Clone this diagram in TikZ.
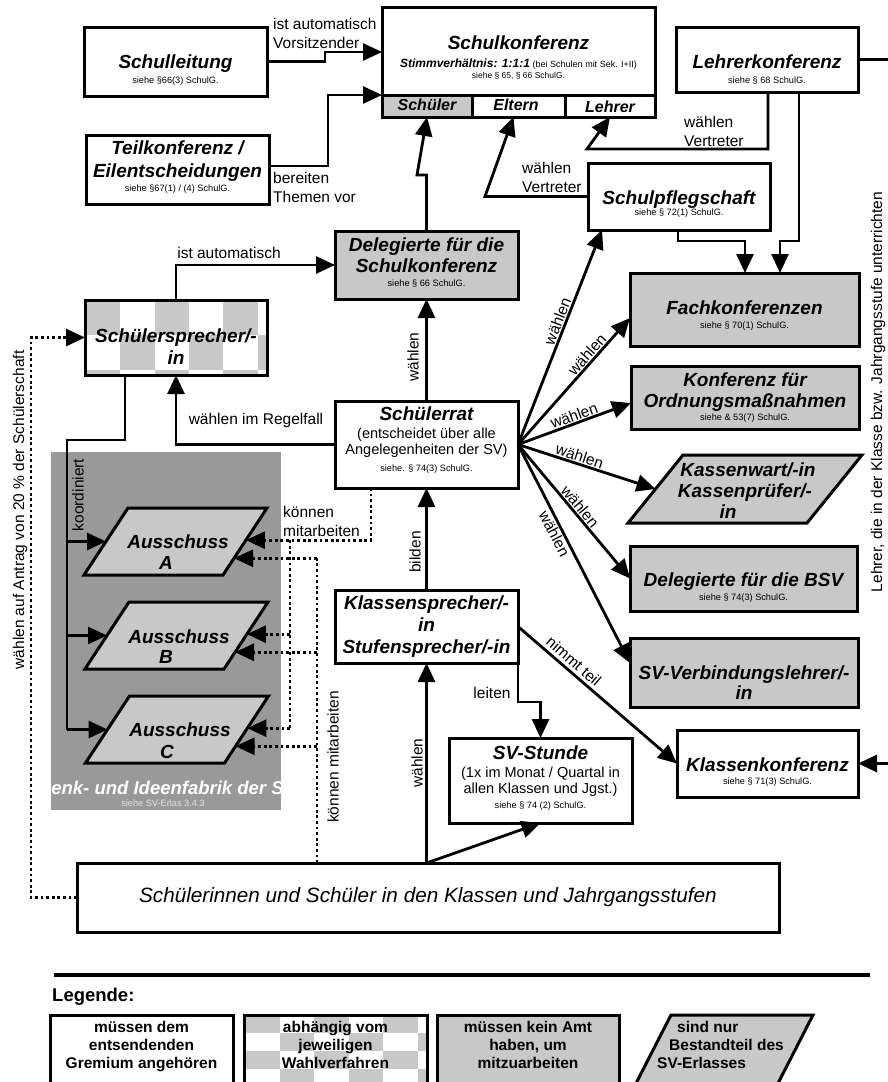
\documentclass[tikz,border=0pt]{standalone}
\usepackage{fontspec}
\setmainfont{Liberation Sans}
\usetikzlibrary{arrows.meta,calc}
\definecolor{cgray}{RGB}{200,200,200}
\definecolor{fabgray}{RGB}{153,153,153}
\definecolor{fabsub}{RGB}{225,225,225}
\newcommand\TitleF{\fontsize{19}{21}\selectfont\bfseries\itshape}
\newcommand\CellF{\fontsize{16}{18}\selectfont\bfseries\itshape}
\newcommand\SmallF{\fontsize{9.2}{10.5}\selectfont}
\newcommand\LabF{\fontsize{15.5}{19}\selectfont}
\newcommand\SubF{\fontsize{14.5}{16.5}\selectfont}
\newcommand\LegF{\fontsize{15.5}{18}\selectfont\bfseries}
% parallelogram: name, cx, cy, width, height, slant, fill
\newcommand\ParaNode[7]{%
  \node[inner sep=0pt, outer sep=0pt, minimum width=#4pt, minimum height=#5pt] (#1) at (#2,#3) {};
  \coordinate (#1-bl) at (#1.south west);
  \coordinate (#1-tr) at (#1.north east);
  \coordinate (#1-tl) at ($(#1.north west)+(#6,0)$);
  \coordinate (#1-br) at ($(#1.south east)-(#6,0)$);
  \draw[line width=3pt, fill=#7] (#1-bl) -- (#1-tl) -- (#1-tr) -- (#1-br) -- cycle;
  \coordinate (#1-left) at ($(#1-bl)!0.5!(#1-tl)$);
}
\tikzset{
  bx/.style={draw, line width=3pt, inner sep=0pt, outer sep=0pt, rectangle},
  wbox/.style={bx, fill=white},
  gbox/.style={bx, fill=cgray},
  ln/.style={line width=2.8pt},
  arr/.style={ln, -{Triangle[length=19pt,width=17pt]}},
  dotl/.style={line width=2.8pt, dash pattern=on 2.8pt off 2.8pt},
  dotarr/.style={dotl, -{Triangle[length=19pt,width=17pt]}},
  ttl/.style={anchor=base, font=\TitleF, inner sep=0pt},
  cel/.style={anchor=base, font=\CellF, inner sep=0pt},
  sml/.style={anchor=base, font=\SmallF, inner sep=0pt},
  sub/.style={anchor=base, font=\SubF, inner sep=0pt},
  lab/.style={font=\LabF, inner sep=1pt},
  leg/.style={anchor=base, font=\LegF, inner sep=0pt},
}
\begin{document}
\begin{tikzpicture}[x=1pt,y=-1pt]
\useasboundingbox (0,0) rectangle (888,1082);
\clip (0,0) rectangle (888,1082);
\fill[white] (0,0) rectangle (888,1082);

% ---------- Denk- und Ideenfabrik background
\node[fill=fabgray, inner sep=0pt, outer sep=0pt, minimum width=230pt, minimum height=358pt] (fabrik) at (166,631) {};
\begin{scope}
  \clip (51,452) rectangle (281,810);
  \node[ttl, text=white, font=\fontsize{18.5}{20}\selectfont\bfseries\itshape] (fabtitle) at (167,794.5) {Denk- und Ideenfabrik der SV};
\end{scope}
\node[sml, text=fabsub] (fabsubt) at (163,806.5) {siehe SV-Erlas 3.4.3};

% ---------- checker pattern for Schuelersprecher
\begin{scope}
  \clip (85,300) rectangle (267,375);
  \foreach \i in {0,2,4}{\fill[cgray] ({86+34.3*\i},300) rectangle ++(34.3,35); \fill[cgray] ({86+34.3*\i},370) rectangle ++(34.3,35);}
  \foreach \i in {1,3,5}{\fill[cgray] ({86+34.3*\i},335) rectangle ++(34.3,35);}
\end{scope}
% checker pattern for legend box 2
\begin{scope}
  \clip (244,1015) rectangle (427,1100);
  \foreach \i in {0,...,5}{\foreach \j in {0,...,4}{%
    \pgfmathtruncatemacro\chk{mod(\i+\j,2)}%
    \ifnum\chk=0 \fill[cgray] ({245+34.5*\i},{1015+18*\j}) rectangle ++(34.5,18);\fi}}
\end{scope}

% ---------- boxes
\node[wbox, minimum width=273pt, minimum height=88pt] (schulk) at (518.5,51) {};
\node[gbox, minimum width=90pt, minimum height=22pt] (schuelercell) at (427,106) {};
\node[wbox, minimum width=93pt, minimum height=22pt] (elterncell) at (518.5,106) {};
\node[wbox, minimum width=90pt, minimum height=22pt] (lehrercell) at (610,106) {};
\node[wbox, minimum width=183pt, minimum height=69pt] (schulleitung) at (175.5,61.5) {};
\node[wbox, minimum width=183pt, minimum height=69pt] (teilk) at (177.5,169.5) {};
\node[wbox, minimum width=182pt, minimum height=65pt] (lehrerk) at (767,59.5) {};
\node[wbox, minimum width=182pt, minimum height=67pt] (schulpfl) at (679,196.5) {};
\node[gbox, minimum width=183pt, minimum height=68pt] (delsk) at (426.5,265) {};
\node[bx, minimum width=182pt, minimum height=75pt] (sprecher) at (176,337.5) {};
\node[wbox, minimum width=183pt, minimum height=87pt] (schuelerrat) at (426.5,444.5) {};
\node[gbox, minimum width=229pt, minimum height=73pt] (fachk) at (744.5,309.5) {};
\node[gbox, minimum width=228pt, minimum height=63pt] (ordn) at (745,397.5) {};
\ParaNode{kassen}{745}{489}{234}{68}{55}{cgray}
\node[gbox, minimum width=227pt, minimum height=65pt] (bsv) at (743.5,578.5) {};
\node[gbox, minimum width=228pt, minimum height=69pt] (svvl) at (744,672.5) {};
\node[wbox, minimum width=181pt, minimum height=67pt] (klassenk) at (767.5,763.5) {};
\node[wbox, minimum width=183pt, minimum height=73pt] (klassensp) at (426.5,626.5) {};
\node[wbox, minimum width=183pt, minimum height=85pt] (svstunde) at (540.5,780.5) {};
\node[wbox, minimum width=702pt, minimum height=69pt] (schueler) at (428,897.5) {};
\ParaNode{ausA}{175.5}{541.5}{183}{67}{44}{cgray}
\ParaNode{ausB}{176.5}{635.5}{183}{67}{44}{cgray}
\ParaNode{ausC}{177}{729.5}{183}{67}{44}{cgray}

% ---------- solid connectors
\draw[arr] (schulleitung.east) -- (325,61.5) -- (325,52) -- (schulk.west |- 0,52);
\draw[arr] (teilk.east |- 0,166) -- (328,166) -- (328,95) -- (schulk.south west);
\draw[arr] (delsk.north) -- (426.5,175) -- (417,175) -- (schuelercell.south);
\draw[arr] (sprecher.north) |- (delsk.west);
\draw[arr] (schuelerrat.north) -- (delsk.south);
\draw[arr] (schuelerrat.west) -| (sprecher.south);
\draw[ln] (sprecher.south -| 125,0) -- (125,440) -- (67,440) -- (67,729.5);
\draw[arr] (ausA-left -| 67,0) -- (ausA-left);
\draw[arr] (ausB-left -| 67,0) -- (ausB-left);
\draw[arr] (ausC-left -| 67,0) -- (ausC-left);
\draw[arr] (klassensp.north) -- (schuelerrat.south);
\draw[arr] (schueler.north -| klassensp.south) -- (klassensp.south);
\draw[arr] (schueler.north -| klassensp.south) -- (svstunde.south);
\draw[arr] (klassensp.south east) -- (518,702) -| (svstunde.north);
\draw[arr] (klassensp.east) -- node[lab, sloped, above=2pt, pos=0.31] (lnimmt) {nimmt teil} (klassenk.west);
\draw[arr] (lehrerk.east) -- (891,59.5) -- (891,763.5) -- (klassenk.east);
\draw[arr] (lehrerk.south -| 768,0) -- (768,149) -- (587,149) -- (lehrercell.south);
\draw[arr] (lehrerk.south -| 799,0) -- (799,241) -- (780,241) -- (fachk.north -| 780,0);
\draw[arr] (schulpfl.south -| 678,0) -- (678,241) -- (745,241) -- (fachk.north -| 745,0);
\draw[arr] (schulpfl.west) -- (485,196.5) -- ([xshift=-5pt]elterncell.south);
% fan from Schuelerrat
\draw[arr] (schuelerrat.east) -- node[lab, sloped, above, pos=0.56] (lw1) {wählen} (schulpfl.south -| 602,0);
\draw[arr] (schuelerrat.east) -- node[lab, sloped, above, pos=0.67] (lw2) {wählen} (fachk.west |- 0,318);
\draw[arr] (schuelerrat.east) -- node[lab, sloped, above, pos=0.52] (lw3) {wählen} (ordn.west |- 0,403);
\draw[arr] (schuelerrat.east) -- node[lab, sloped, above, pos=0.43] (lw4) {wählen} (kassen-left);
\draw[arr] (schuelerrat.east) -- node[lab, sloped, above, pos=0.5] (lw5) {wählen} (bsv.west);
\draw[arr] (schuelerrat.east) -- node[lab, sloped, below, pos=0.39] (lw6) {wählen} (svvl.west |- 0,663);

% ---------- dotted connectors
\coordinate (Aup) at ($(ausA-tr)!0.48!(ausA-br)$);
\coordinate (Bup) at ($(ausB-tr)!0.48!(ausB-br)$);
\coordinate (Cup) at ($(ausC-tr)!0.48!(ausC-br)$);
\coordinate (Alo) at ($(ausA-tr)!0.75!(ausA-br)$);
\coordinate (Blo) at ($(ausB-tr)!0.75!(ausB-br)$);
\coordinate (Clo) at ($(ausC-tr)!0.75!(ausC-br)$);
\draw[dotarr] (schuelerrat.south -| 371,0) |- (Aup);
\draw[dotl] (Aup -| 290,0) -- (Cup -| 290,0);
\draw[dotarr] (Bup -| 290,0) -- (Bup);
\draw[dotarr] (Cup -| 290,0) -- (Cup);
\draw[dotl] (schueler.north -| 317,0) -- (Alo -| 317,0);
\draw[dotarr] (Alo -| 317,0) -- (Alo);
\draw[dotarr] (Blo -| 317,0) -- (Blo);
\draw[dotarr] (Clo -| 317,0) -- (Clo);
\draw[dotarr] (schueler.west) -| (31,337.5) -- (sprecher.west);

% ---------- box texts
\node[ttl] (t_schulk) at (518.5,49.5) {Schulkonferenz};
\node[anchor=base, inner sep=0pt] (t_stimm) at (518.5,67) {{\fontsize{12}{14}\selectfont\bfseries\itshape Stimmverhältnis: 1:1:1} {\fontsize{9}{10}\selectfont (bei Schulen mit Sek. I+II)}};
\node[sml, font=\fontsize{8.5}{10}\selectfont] (s_schulk) at (518.5,78) {siehe § 65, § 66 SchulG.};
\node[cel] (t_schuelercell) at (427,110.5) {Schüler};
\node[cel] (t_elterncell) at (516,110.5) {Eltern};
\node[cel] (t_lehrercell) at (610,112) {Lehrer};
\node[ttl] (t_schulleitung) at (175.5,68.5) {Schulleitung};
\node[sml] (s_schulleitung) at (175.5,83.5) {siehe §66(3) SchulG.};
\node[ttl] (t_teilk1) at (177.5,154.5) {Teilkonferenz /};
\node[ttl] (t_teilk2) at (177.5,177.5) {Eilentscheidungen};
\node[sml] (s_teilk) at (177.5,191.5) {siehe §67(1) / (4) SchulG.};
\node[ttl] (t_lehrerk) at (767,68.5) {Lehrerkonferenz};
\node[sml] (s_lehrerk) at (767,83.5) {siehe § 68 SchulG.};
\node[ttl] (t_schulpfl) at (679,204.5) {Schulpflegschaft};
\node[sml] (s_schulpfl) at (679,215.5) {siehe § 72(1) SchulG.};
\node[ttl] (t_delsk1) at (426.5,251.5) {Delegierte für die};
\node[ttl] (t_delsk2) at (426.5,272) {Schulkonferenz};
\node[sml] (s_delsk) at (426.5,286.5) {siehe § 66 SchulG.};
\node[ttl] (t_sprecher1) at (176,342.5) {Schülersprecher/-};
\node[ttl] (t_sprecher2) at (176,364.5) {in};
\node[ttl] (t_rat) at (426.5,420.5) {Schülerrat};
\node[sub] (t_rat2) at (426.5,438) {(entscheidet über alle};
\node[sub] (t_rat3) at (426.5,454) {Angelegenheiten der SV)};
\node[sml] (s_rat) at (426.5,471.5) {siehe. § 74(3) SchulG.};
\node[ttl] (t_fachk) at (744.5,314.5) {Fachkonferenzen};
\node[sml] (s_fachk) at (744.5,328.5) {siehe § 70(1) SchulG.};
\node[ttl] (t_ordn1) at (745,386.5) {Konferenz für};
\node[ttl] (t_ordn2) at (745,407.5) {Ordnungsmaßnahmen};
\node[sml] (s_ordn) at (745,420.5) {siehe \& 53(7) SchulG.};
\node[ttl] (t_kassen1) at (748,476.5) {Kassenwart/-in};
\node[ttl] (t_kassen2) at (745,497.5) {Kassenprüfer/-};
\node[ttl] (t_kassen3) at (728,518.5) {in};
\node[ttl] (t_bsv) at (743.5,586.5) {Delegierte für die BSV};
\node[sml] (s_bsv) at (743.5,600.5) {siehe § 74(3) SchulG.};
\node[ttl] (t_svvl1) at (744,679.5) {SV-Verbindungslehrer/-};
\node[ttl] (t_svvl2) at (744,699.5) {in};
\node[ttl] (t_klassenk) at (767.5,771.5) {Klassenkonferenz};
\node[sml] (s_klassenk) at (767.5,784.5) {siehe § 71(3) SchulG.};
\node[ttl] (t_ksp1) at (426.5,609.5) {Klassensprecher/-};
\node[ttl] (t_ksp2) at (426.5,631.5) {in};
\node[ttl] (t_ksp3) at (426.5,653.5) {Stufensprecher/-in};
\node[ttl] (t_svst) at (540.5,759.5) {SV-Stunde};
\node[sub] (t_svst2) at (540.5,777) {(1x im Monat / Quartal in};
\node[sub] (t_svst3) at (540.5,793) {allen Klassen und Jgst.)};
\node[sml] (s_svst) at (540.5,808.5) {siehe § 74 (2) SchulG.};
\node[ttl] (t_ausA1) at (178,548.5) {Ausschuss};
\node[ttl] (t_ausA2) at (166,569.5) {A};
\node[ttl] (t_ausB1) at (179,643.5) {Ausschuss};
\node[ttl] (t_ausB2) at (166,663.5) {B};
\node[ttl] (t_ausC1) at (180,736.5) {Ausschuss};
\node[ttl] (t_ausC2) at (167,758.5) {C};
\node[anchor=base, inner sep=0pt, font=\fontsize{20.7}{22}\selectfont\itshape] (t_schueler) at (428,902.5) {Schülerinnen und Schüler in den Klassen und Jahrgangsstufen};

% ---------- connector labels
\node[lab, align=left, anchor=west] (l_vors) at (272,33) {ist automatisch\\Vorsitzender};
\node[lab, align=left, anchor=west] (l_bereiten) at (272,187) {bereiten\\Themen vor};
\node[lab, align=left, anchor=west] (l_vertr1) at (683,131) {wählen\\Vertreter};
\node[lab, align=left, anchor=west] (l_vertr2) at (521,177) {wählen\\Vertreter};
\node[lab] (l_istauto) at (229,253) {ist automatisch};
\node[lab] (l_regelfall) at (256,420) {wählen im Regelfall};
\node[lab, rotate=90] (l_waehlen1) at (413,357) {wählen};
\node[lab, rotate=90] (l_bilden) at (415,552) {bilden};
\node[lab, rotate=90] (l_waehlen2) at (417,763) {wählen};
\node[lab, rotate=90] (l_koord) at (78,495) {koordiniert};
\node[lab, align=left, anchor=west] (l_koennen1) at (282,521) {können\\mitarbeiten};
\node[lab, rotate=90] (l_koennen2) at (333,757) {können mitarbeiten};
\node[lab] (l_leiten) at (492,693) {leiten};
\node[lab, rotate=90] (l_antrag) at (20,510) {wählen auf Antrag von 20 \% der Schülerschaft};
\node[lab, rotate=90] (l_lehrer) at (878,392) {Lehrer, die in der Klasse bzw. Jahrgangsstufe unterrichten};

% ---------- legend
\draw[line width=3.5pt] (54,975) -- (870,975);
\node[anchor=base west, font=\fontsize{18.5}{20}\selectfont\bfseries, inner sep=0pt] (legtitle) at (52,1001.5) {Legende:};
\node[wbox, minimum width=183pt, minimum height=80pt] (leg1) at (141.5,1055) {};
\node[bx, minimum width=183pt, minimum height=80pt] (leg2) at (335.5,1055) {};
\node[gbox, minimum width=182pt, minimum height=80pt] (leg3) at (528,1055) {};
\ParaNode{leg4}{721.5}{1055}{183}{80}{41}{cgray}
\node[leg] (lg1a) at (141.5,1032) {müssen dem};
\node[leg] (lg1b) at (141.5,1050) {entsendenden};
\node[leg] (lg1c) at (141.5,1068) {Gremium angehören};
\node[leg] (lg2a) at (335.5,1032) {abhängig vom};
\node[leg] (lg2b) at (335.5,1050) {jeweiligen};
\node[leg] (lg2c) at (335.5,1068) {Wahlverfahren};
\node[leg] (lg3a) at (528,1032) {müssen kein Amt};
\node[leg] (lg3b) at (528,1050) {haben, um};
\node[leg] (lg3c) at (528,1068) {mitzuarbeiten};
\node[leg, anchor=base west] (lg4a) at (677,1032) {sind nur};
\node[leg, anchor=base west] (lg4b) at (669,1050) {Bestandteil des};
\node[leg, anchor=base west] (lg4c) at (657,1068) {SV-Erlasses};
\end{tikzpicture}
\end{document}
